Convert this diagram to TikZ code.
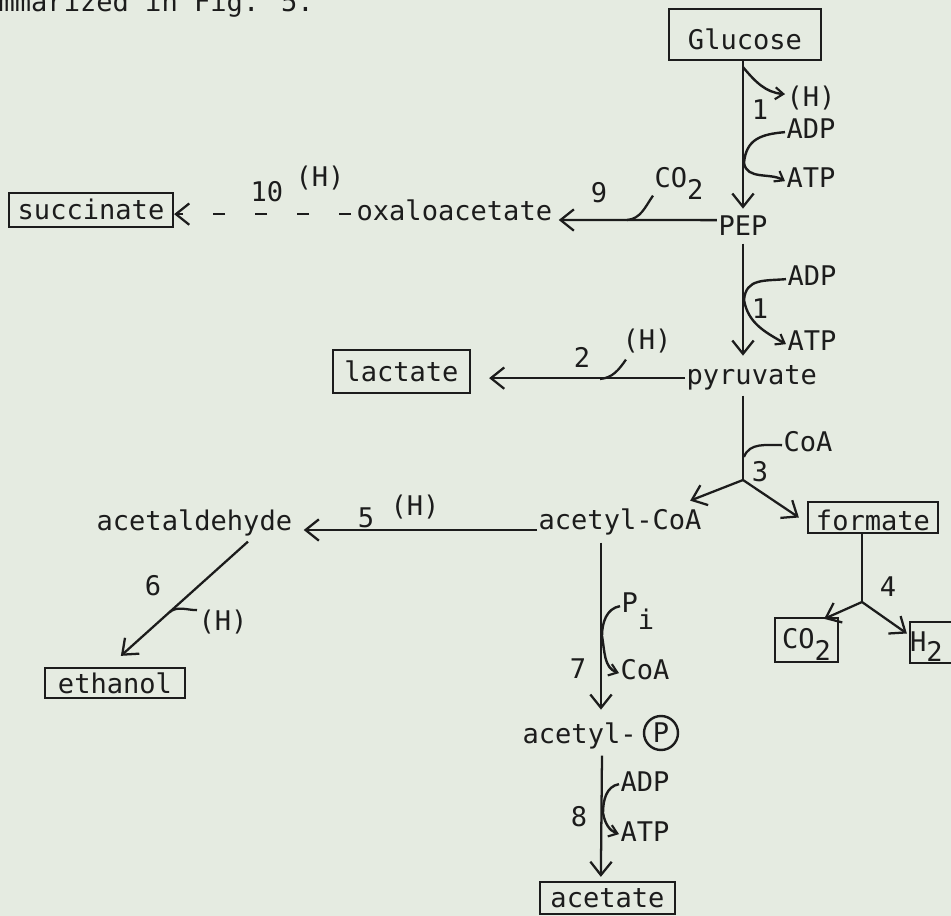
\documentclass[tikz,border=0pt]{standalone}
\usepackage{fontspec}
\setmainfont{DejaVu Sans Mono}
\usetikzlibrary{arrows.meta,calc}
\definecolor{bgc}{RGB}{229,235,225}
\definecolor{ink}{RGB}{28,28,28}
\newcommand\dn[2][9pt]{\raisebox{-#1}{#2}}
\begin{document}
\begin{tikzpicture}[x=0.75pt,y=-0.75pt,color=ink,
  font=\fontsize{20.3pt}{24pt}\selectfont,
  lbl/.style={inner sep=1pt, text height=14.8pt, text depth=4.5pt, anchor=base},
  lblw/.style={lbl, anchor=base west},
  box/.style={draw=ink, line width=1.7pt, inner sep=0pt, anchor=base},
  arr/.style={draw=ink, line width=1.7pt, -{Straight Barb[length=10pt,width=16pt,line width=1.7pt]}},
  sarr/.style={draw=ink, line width=1.8pt, -{Straight Barb[length=6pt,width=9pt,line width=1.6pt]}},
  ln/.style={draw=ink, line width=1.7pt}]
\useasboundingbox (0,0) rectangle (951,916);
\fill[bgc] (0,0) rectangle (951,916);

% boxes
\node[box, minimum width=114pt, text height=30.75pt, text depth=7.5pt] (glucose) at (745,50) {Glucose};
\node[box, minimum width=123pt, text height=20.25pt, text depth=5.25pt] (succ) at (91,220) {succinate};
\node[box, minimum width=102.75pt, text height=24pt, text depth=8.25pt] (lact) at (401.5,382) {lactate};
\node[box, minimum width=97.5pt, text height=21.75pt, text depth=1.5pt] (form) at (873,531) {formate};
\node[box, minimum width=105pt, text height=18.75pt, text depth=3.75pt] (eth) at (115,693) {ethanol};
\node[box, minimum width=101.25pt, text height=18.75pt, text depth=5.25pt] (acet) at (607.5,907) {acetate};
\node[box, minimum width=47.25pt, text height=22.5pt, text depth=10.5pt] (co2b) at (806.5,648) {CO\dn{2}};
\node[box, text width=36pt, align=left, text height=22.5pt, text depth=8.25pt] (h2b) at (934,652) {H\dn[7.5pt]{2}};

% text
\node[lblw] (top) at (-3,12) {mmarized in Fig. 5.};
\node[lblw] (h1) at (785,107) {(H)};
\node[lbl] (n1a) at (760,120) {1};
\node[lblw] (adp1) at (785,139) {ADP};
\node[lblw] (atp1) at (785,188) {ATP};
\node[lbl] (pep) at (743,236) {PEP};
\node[lblw] (co2a) at (653,188) {CO\dn{2}};
\node[lbl] (n9) at (599,203) {9};
\node[lblw] (oxalo) at (355,221) {oxaloacetate};
\node[lbl] (n10) at (267,202) {10};
\node[lbl] (h10) at (320,187) {(H)};
\node[lblw] (adp2) at (786,286) {ADP};
\node[lbl] (n1b) at (760,319) {1};
\node[lblw] (atp2) at (786,351) {ATP};
\node[lblw] (pyr) at (685,385) {pyruvate};
\node[lbl] (h2) at (647,350) {(H)};
\node[lbl] (n2) at (582,368) {2};
\node[lblw] (coa3) at (782,452) {CoA};
\node[lbl] (n3) at (760,482) {3};
\node[lblw] (acoa) at (537,530) {acetyl-CoA};
\node[lbl] (n4) at (888,597) {4};
\node[lblw] (acald) at (95,531) {acetaldehyde};
\node[lbl] (n5) at (366,528) {5};
\node[lbl] (h5) at (415,516) {(H)};
\node[lbl] (n6) at (153,595) {6};
\node[lblw] (h6) at (197,630) {(H)};
\node[lblw] (pi) at (620,613) {P\dn[12.75pt]{i}};
\node[lblw] (coa7) at (619,680) {CoA};
\node[lbl] (n7) at (578,678) {7};
\node[lblw] (acP) at (521,743) {acetyl-};
\node[draw=ink, circle, line width=1.8pt, inner sep=0pt, minimum size=25.5pt] (circP) at (661,733) {P};
\node[lblw] (adp8) at (619,791) {ADP};
\node[lblw] (atp8) at (619,841) {ATP};
\node[lbl] (n8) at (579,826) {8};

% coordinates
\coordinate (t1) at (744,163);
\coordinate (t2) at (744,300);
\coordinate (br9) at (627,220);
\coordinate (br2) at (600,379);
\coordinate (t3) at (744,457);
\coordinate (fork3) at (743,480);
\coordinate (fork4) at (862,602);
\coordinate (t7) at (602,636);
\coordinate (t8) at (603,813);
\coordinate (s6) at ($(acald.south west)+(153,3)$);
\coordinate (e6) at ($(eth.north west)+(77,-11)$);

% reaction 1
\draw[arr] (glucose.south -| pep.north) -- ($(pep.north)+(0,-6)$);
\draw[sarr] ($(glucose.south -| pep.north)+(0,6)$) to[out=-50,in=175] ($(h1.west)+(0,-6)$);
\draw[sarr] (adp1.west) to[out=185,in=85,looseness=1.2] (t1) to[out=-80,in=150] (atp1.west);
% reaction 9
\draw[arr] ($(pep.west)+(0,-9)$) -- ($(oxalo.base east)+(5,-1)$);
\draw[ln] (br9) to[out=5,in=235] (co2a.south west);
% reaction 10
\draw[arr, dash pattern=on 9pt off 22.5pt, dash phase=28.5pt] (oxalo.west) -- (oxalo.west -| succ.east);
% reaction 1 (second)
\draw[arr] (pep.south) -- ($(pep.south |- pyr.north)+(0,-8)$);
\draw[sarr] (adp2.west) to[out=185,in=85,looseness=1.2] (t2) to[out=-80,in=150] (atp2.west);
% reaction 2
\draw[arr] (pyr.west) -- ($(pyr.west -| lact.east)+(18,0)$);
\draw[ln] (br2) to[out=5,in=235] ($(h2.south west)+(5,2)$);
% reaction 3
\draw[ln] ($(pep.south |- pyr.south)+(0,3)$) -- (fork3);
\draw[ln] (coa3.west) to[out=180,in=70] (t3);
\draw[arr] (fork3) -- ($(acoa.north east)+(-13,-8)$);
\draw[arr] (fork3) -- ($(form.west)+(-8,0)$);
% reaction 4
\draw[ln] ($(form.south)+(-11,0)$) -- (fork4);
\draw[arr] (fork4) -- ($(co2b.north east)+(-15,2)$);
\draw[arr] (fork4) -- ($(h2b.west)+(-2,-9)$);
% reaction 5
\draw[arr] (acoa.base west) -- ($(acoa.base west -| acald.base east)+(10,0)$);
% reaction 6
\draw[arr] (s6) -- (e6);
\draw[ln] ($(s6)!0.62!(e6)$) to[out=40,in=180] ($(h6.west)+(0,-13)$);
% reaction 7
\draw[arr] ($(acoa.south west)+(64,5)$) -- ($(acP.north west)+(80,-12)$);
\draw[sarr] (pi.west) to[out=190,in=90] (t7) to[out=-80,in=160] (coa7.west);
% reaction 8
\draw[arr] ($(acP.south west)+(81,5)$) -- ($(acet.north west)+(62,-4)$);
\draw[sarr] (adp8.west) to[out=190,in=90] (t8) to[out=-80,in=160] (atp8.west);
\end{tikzpicture}
\end{document}
